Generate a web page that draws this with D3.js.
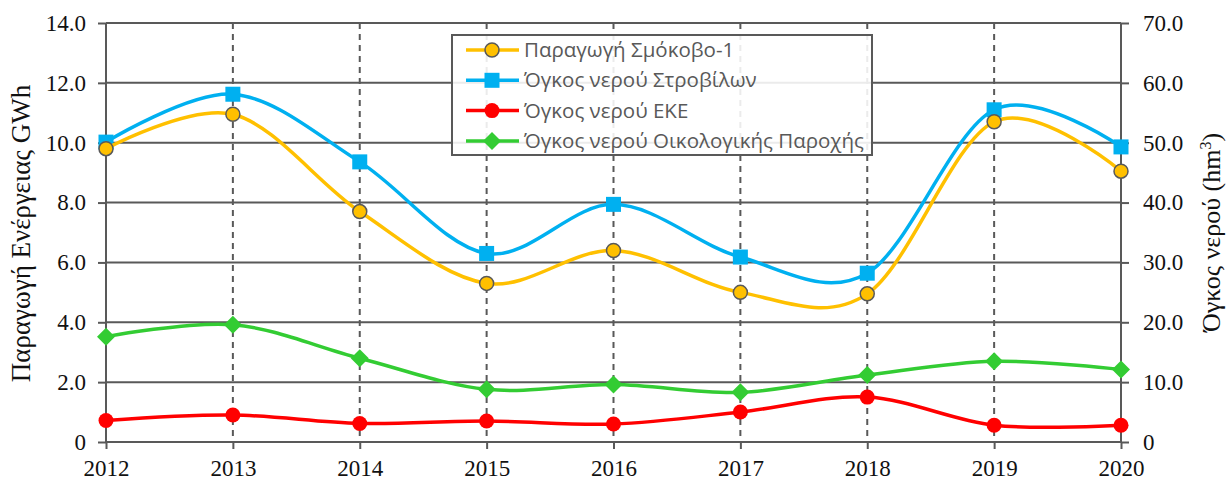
<!DOCTYPE html>
<html>
<head>
<meta charset="utf-8">
<script src="https://cdn.jsdelivr.net/npm/d3@7"></script>
<style>
  body { margin: 0; background: #fff; }
</style>
</head>
<body>
<div id="chart"></div>
<script>
"use strict";

var years = [2012, 2013, 2014, 2015, 2016, 2017, 2018, 2019, 2020];
// GWh (left axis)
var production = [9.8, 10.95, 7.7, 5.3, 6.4, 5.0, 4.95, 10.7, 9.05];
// hm3 (right axis)
var turbines = [50.1, 58.1, 46.8, 31.5, 39.7, 30.9, 28.2, 55.5, 49.3];
var eke = [3.6, 4.5, 3.1, 3.5, 3.0, 5.0, 7.5, 2.8, 2.8];
var ecological = [17.6, 19.6, 14.0, 8.8, 9.6, 8.3, 11.2, 13.5, 12.1];

var leftTicks = [0, 2, 4, 6, 8, 10, 12, 14];
var rightTicks = [0, 10, 20, 30, 40, 50, 60, 70];

var seriesNames = ["Παραγωγή Σμόκοβο-1", "Όγκος νερού Στροβίλων", "Όγκος νερού ΕΚΕ", "Όγκος νερού Οικολογικής Παροχής"];

var w = 1228, h = 481;
var plotLeft = 106, plotRight = 1121, plotTop = 23, plotBottom = 442;

var svg = d3.select("#chart").append("svg")
    .attr("width", w)
    .attr("height", h);

var x = d3.scaleLinear().domain([2012, 2020]).range([plotLeft, plotRight]);
var yL = d3.scaleLinear().domain([0, 14]).range([plotBottom, plotTop]);
var yR = d3.scaleLinear().domain([0, 70]).range([plotBottom, plotTop]);

var grey = "#595959";
var serif = "'Liberation Serif', 'Times New Roman', serif";

// horizontal grid
svg.append("g").selectAll("line")
    .data(leftTicks)
    .enter().append("line")
    .attr("x1", plotLeft).attr("x2", plotRight)
    .attr("y1", function(d){ return yL(d); })
    .attr("y2", function(d){ return yL(d); })
    .attr("stroke", grey).attr("stroke-width", 2);

// vertical dashed grid
svg.append("g").selectAll("line")
    .data(years.slice(1, -1))
    .enter().append("line")
    .attr("x1", function(d){ return x(d); })
    .attr("x2", function(d){ return x(d); })
    .attr("y1", plotTop).attr("y2", plotBottom)
    .attr("stroke", grey).attr("stroke-width", 2)
    .attr("stroke-dasharray", "6,5");

// axes
var fmt = function(d){ return d === 0 ? "0" : d3.format(".1f")(d); };
var axisL = svg.append("g")
    .attr("transform", "translate(" + plotLeft + ",0)")
    .call(d3.axisLeft(yL).tickValues(leftTicks).tickSize(8).tickPadding(12).tickFormat(fmt));
var axisR = svg.append("g")
    .attr("transform", "translate(" + plotRight + ",0)")
    .call(d3.axisRight(yR).tickValues(rightTicks).tickSize(8).tickPadding(14).tickFormat(fmt));
var axisB = svg.append("g")
    .attr("transform", "translate(0," + plotBottom + ")")
    .call(d3.axisBottom(x).tickValues(years).tickSize(7).tickPadding(11)
        .tickFormat(d3.format("d")));

[axisL, axisR, axisB].forEach(function(a){
    a.select(".domain").attr("stroke", grey).attr("stroke-width", 2);
    a.selectAll(".tick line").attr("stroke", grey).attr("stroke-width", 2);
    a.selectAll("text")
        .attr("fill", "#111")
        .style("font-family", serif)
        .style("font-size", "23px");
});
axisB.select(".domain").attr("d", "M" + plotLeft + ",0H" + plotRight);
axisL.select(".domain").attr("d", "M0," + plotBottom + "V" + plotTop);
axisR.select(".domain").attr("d", "M0," + plotBottom + "V" + plotTop);

// axis titles
var midY = (plotTop + plotBottom) / 2;
svg.append("text")
    .attr("transform", "translate(30," + (midY + 1) + ") rotate(-90)")
    .attr("text-anchor", "middle")
    .style("font-family", serif)
    .style("font-size", "27px")
    .attr("fill", "#111")
    .text("Παραγωγή Ενέργειας GWh");

svg.append("text")
    .attr("transform", "translate(1220," + midY + ") rotate(-90)")
    .attr("text-anchor", "middle")
    .style("font-family", serif)
    .style("font-size", "26px")
    .attr("fill", "#111")
    .html("Όγκος νερού (hm<tspan dy='-9' font-size='16px'>3</tspan><tspan dy='9'>)</tspan>");

// series
var series = [
    { name: seriesNames[0], values: production, y: yL, color: "#FFC000", marker: "circle" },
    { name: seriesNames[1], values: turbines, y: yR, color: "#00B0F0", marker: "square" },
    { name: seriesNames[2], values: eke, y: yR, color: "#FF0000", marker: "dot" },
    { name: seriesNames[3], values: ecological, y: yR, color: "#33CC33", marker: "diamond" }
];

function drawMarker(g, s, cx, cy){
    if(s.marker === "circle"){
        g.append("circle").attr("cx", cx).attr("cy", cy).attr("r", 7)
            .attr("fill", s.color).attr("stroke", grey).attr("stroke-width", 1.5);
    }
    else if(s.marker === "dot"){
        g.append("circle").attr("cx", cx).attr("cy", cy).attr("r", 7.5)
            .attr("fill", s.color);
    }
    else if(s.marker === "square"){
        g.append("rect").attr("x", cx - 7.5).attr("y", cy - 7.5)
            .attr("width", 15).attr("height", 15).attr("fill", s.color);
    }
    else if(s.marker === "diamond"){
        g.append("path")
            .attr("d", "M" + cx + "," + (cy - 9) + "L" + (cx + 9) + "," + cy +
                "L" + cx + "," + (cy + 9) + "L" + (cx - 9) + "," + cy + "Z")
            .attr("fill", s.color);
    }
}

// draw bottom-most series first
series.slice().reverse().forEach(function(s){
    var line = d3.line()
        .x(function(d, i){ return x(years[i]); })
        .y(function(d){ return s.y(d); })
        .curve(d3.curveCardinal.tension(0));
    svg.append("path")
        .datum(s.values)
        .attr("d", line)
        .attr("fill", "none")
        .attr("stroke", s.color)
        .attr("stroke-width", 3.5);
    var g = svg.append("g");
    s.values.forEach(function(v, i){
        drawMarker(g, s, x(years[i]), s.y(v));
    });
});

// legend
var lg = svg.append("g");
lg.append("rect")
    .attr("x", 452).attr("y", 35)
    .attr("width", 420).attr("height", 120)
    .attr("fill", "rgba(255,255,255,0.88)")
    .attr("stroke", grey).attr("stroke-width", 2);

series.forEach(function(s, i){
    var cy = 50 + i * 30.3;
    lg.append("line")
        .attr("x1", 466).attr("x2", 519)
        .attr("y1", cy).attr("y2", cy)
        .attr("stroke", s.color).attr("stroke-width", 3.5);
    drawMarker(lg, s, 492, cy);
    lg.append("text")
        .attr("x", 524).attr("y", cy + 7)
        .style("font-family", "'Open Sans', 'Noto Sans', sans-serif")
        .style("font-size", "20.5px")
        .attr("fill", grey)
        .text(s.name);
});
</script>
</body>
</html>
